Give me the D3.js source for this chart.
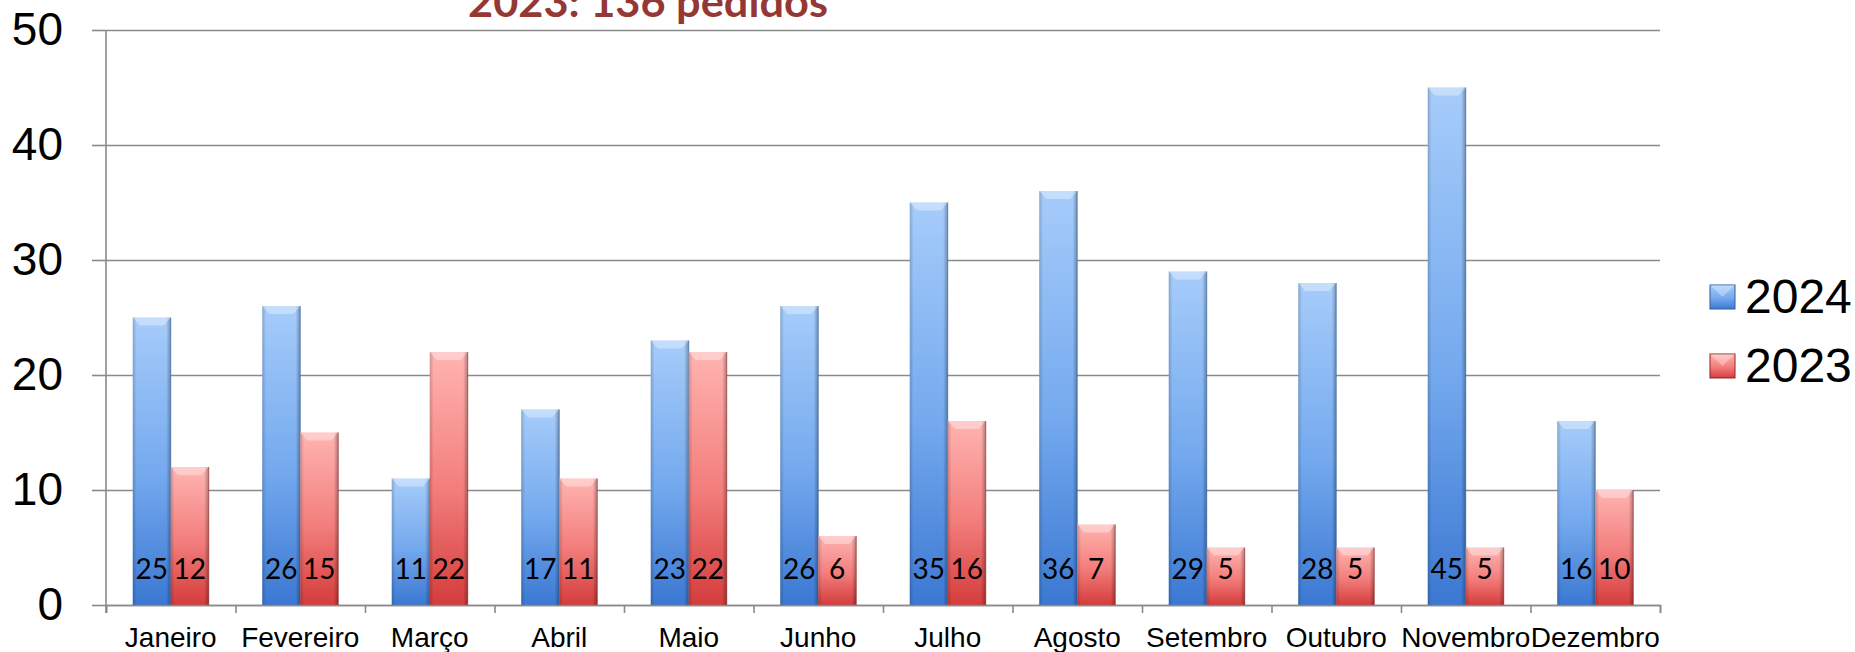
<!DOCTYPE html>
<html>
<head>
<meta charset="utf-8">
<style>
  html, body { margin: 0; padding: 0; background: #fff; }
  svg { display: block; }
</style>
</head>
<body>
<svg width="1855" height="652"></svg>
<script src="https://d3js.org/d3.v7.min.js"></script>
<script>
  const months = ["Janeiro", "Fevereiro", "Março", "Abril", "Maio", "Junho",
    "Julho", "Agosto", "Setembro", "Outubro", "Novembro", "Dezembro"];
  const seriesNames = ["2024", "2023"];
  const values2024 = [25, 26, 11, 17, 23, 26, 35, 36, 29, 28, 45, 16];
  const values2023 = [12, 15, 22, 11, 22, 6, 16, 7, 5, 5, 5, 10];
  const yTicks = [0, 10, 20, 30, 40, 50];
  const titleText = "2023: 136 pedidos";

  const svg = d3.select("svg");
  const plotLeft = 106, plotRight = 1660, plotTop = 30, plotBottom = 605;

  const y = d3.scaleLinear().domain([0, 50]).range([plotBottom, plotTop]);
  const x0 = d3.scaleBand().domain(months).range([plotLeft, plotRight])
    .paddingInner(0.413).paddingOuter(0.2065);
  const x1 = d3.scaleBand().domain(seriesNames).range([0, x0.bandwidth()]);
  const bounds = d3.scaleLinear().domain([0, months.length]).range([plotLeft, plotRight]);

  const colors = {
    "2024": { top: "#a6ccfa", mid: "#74a9ee", bot: "#3b78d2", edge: "#2f5f9e" },
    "2023": { top: "#ffb4b1", mid: "#f27d7b", bot: "#d43c3c", edge: "#8e2424" }
  };

  const defs = svg.append("defs");
  seriesNames.forEach(s => {
    const g = defs.append("linearGradient").attr("id", "g" + s)
      .attr("x1", 0).attr("y1", 0).attr("x2", 0).attr("y2", 1);
    g.append("stop").attr("offset", "0%").attr("stop-color", colors[s].top);
    g.append("stop").attr("offset", "55%").attr("stop-color", colors[s].mid);
    g.append("stop").attr("offset", "100%").attr("stop-color", colors[s].bot);
  });
  const side = defs.append("linearGradient").attr("id", "side")
    .attr("x1", 0).attr("y1", 0).attr("x2", 1).attr("y2", 0);
  side.append("stop").attr("offset", "0%").attr("stop-color", "#000").attr("stop-opacity", 0.18);
  side.append("stop").attr("offset", "10%").attr("stop-color", "#000").attr("stop-opacity", 0);
  side.append("stop").attr("offset", "88%").attr("stop-color", "#000").attr("stop-opacity", 0);
  side.append("stop").attr("offset", "100%").attr("stop-color", "#000").attr("stop-opacity", 0.3);

  // gridlines
  svg.append("g")
    .attr("transform", `translate(${plotLeft},0)`)
    .call(d3.axisLeft(y).tickValues(yTicks).tickSize(-(plotRight - plotLeft)).tickFormat(""))
    .call(g => g.select(".domain").remove())
    .call(g => g.selectAll("line").attr("stroke", "#8a8a8a").attr("stroke-width", 1.6));

  // y axis with labels
  svg.append("g")
    .attr("transform", `translate(${plotLeft},0)`)
    .call(d3.axisLeft(y).tickValues(yTicks).tickSize(14).tickPadding(29))
    .call(g => g.select(".domain").remove())
    .call(g => g.selectAll("line").attr("stroke", "#8a8a8a").attr("stroke-width", 1.6))
    .call(g => g.selectAll("text")
      .attr("fill", "#000")
      .style("font-family", "'Liberation Sans', Arial, sans-serif")
      .style("font-size", "46px"));

  svg.append("line")
    .attr("x1", plotLeft).attr("x2", plotLeft)
    .attr("y1", plotTop).attr("y2", plotBottom + 8)
    .attr("stroke", "#8a8a8a").attr("stroke-width", 1.6);

  // bars
  const data = months.map((m, i) => ({ month: m, vals: [
    { key: "2024", value: values2024[i] },
    { key: "2023", value: values2023[i] }
  ] }));

  const groups = svg.append("g").selectAll("g")
    .data(data).join("g")
    .attr("transform", d => `translate(${x0(d.month)},0)`);

  const bar = groups.selectAll("g.bar")
    .data(d => d.vals).join("g").attr("class", "bar");

  const bw = x1.bandwidth();
  bar.append("rect")
    .attr("x", d => x1(d.key))
    .attr("y", d => y(d.value))
    .attr("width", bw)
    .attr("height", d => y(0) - y(d.value))
    .attr("fill", d => `url(#g${d.key})`);
  bar.append("rect")
    .attr("x", d => x1(d.key))
    .attr("y", d => y(d.value))
    .attr("width", bw)
    .attr("height", d => y(0) - y(d.value))
    .attr("fill", "url(#side)");
  bar.append("path")
    .attr("d", d => {
      const xa = x1(d.key), ya = y(d.value);
      return `M${xa},${ya}L${xa + bw},${ya}L${xa + bw - 7},${ya + 8}L${xa + 7},${ya + 8}Z`;
    })
    .attr("fill", "#fff").attr("fill-opacity", 0.35);
  bar.append("path")
    .attr("d", d => {
      const xa = x1(d.key), ya = y(d.value);
      return `M${xa + bw},${ya}L${xa + bw},${y(0)}`;
    })
    .attr("stroke", d => colors[d.key].edge).attr("stroke-width", 1).attr("stroke-opacity", 0.6);

  bar.append("text")
    .attr("x", d => x1(d.key) + bw / 2)
    .attr("y", y(0) - 26)
    .attr("text-anchor", "middle")
    .style("font-family", "Lato, 'Open Sans', sans-serif")
    .style("font-size", "28px")
    .attr("fill", "#000")
    .text(d => d.value);

  // x axis
  svg.append("g")
    .attr("transform", `translate(0,${plotBottom})`)
    .call(d3.axisBottom(bounds).tickValues(d3.range(months.length + 1)).tickSize(8).tickFormat(""))
    .call(g => g.select(".domain").attr("stroke", "#8a8a8a").attr("stroke-width", 1.6))
    .call(g => g.selectAll("line").attr("stroke", "#8a8a8a").attr("stroke-width", 1.6));

  const xLab = d3.scaleBand().domain(months).range([plotLeft, plotRight]);
  svg.append("g")
    .attr("transform", `translate(0,${plotBottom})`)
    .call(d3.axisBottom(xLab).tickSize(0).tickPadding(22))
    .call(g => g.select(".domain").remove())
    .call(g => g.selectAll("text")
      .attr("fill", "#000")
      .style("font-family", "'Liberation Sans', Arial, sans-serif")
      .style("font-size", "28px"));

  // title (top is cut off in the original)
  svg.append("text")
    .attr("x", 468).attr("y", 17)
    .attr("textLength", 360).attr("lengthAdjust", "spacingAndGlyphs")
    .style("font-family", "Lato, 'Open Sans', sans-serif")
    .style("font-weight", "bold")
    .style("font-size", "42px")
    .attr("fill", "#953735")
    .text(titleText);

  // legend
  const legend = svg.append("g").attr("transform", "translate(1710,285)");
  const item = legend.selectAll("g").data(seriesNames).join("g")
    .attr("transform", (d, i) => `translate(0,${i * 69})`);
  item.append("rect")
    .attr("width", 25).attr("height", 24)
    .attr("fill", d => `url(#g${d})`)
    .attr("stroke", d => colors[d].edge).attr("stroke-width", 1);
  item.append("path")
    .attr("d", "M0,0L25,0L12.5,12Z")
    .attr("fill", "#fff").attr("fill-opacity", 0.3);
  item.append("text")
    .attr("x", 35).attr("y", 28)
    .style("font-family", "'Liberation Sans', Arial, sans-serif")
    .style("font-size", "48px")
    .attr("fill", "#000")
    .text(d => d);
</script>
</body>
</html>
